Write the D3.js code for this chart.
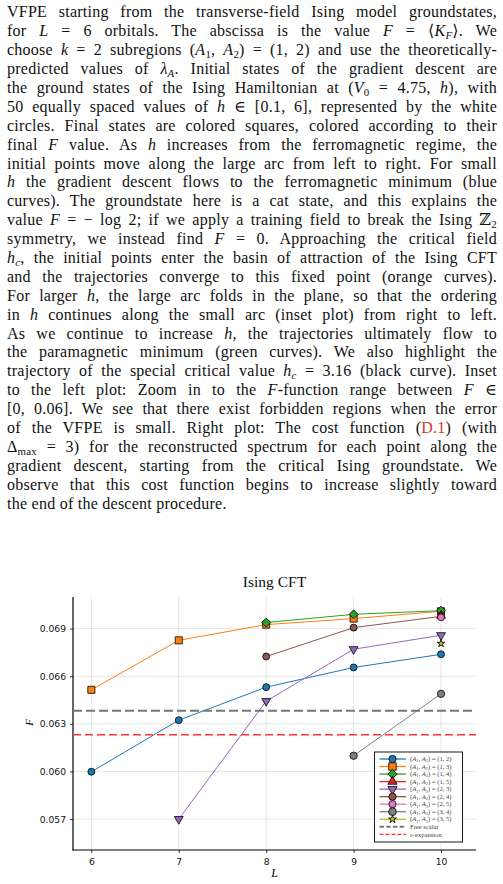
<!DOCTYPE html>
<html>
<head>
<meta charset="utf-8">
<script src="https://cdn.jsdelivr.net/npm/d3@7"></script>
<style>
  html, body { margin: 0; padding: 0; background: #fff; width: 503px; height: 884px; overflow: hidden; }
  #txt { position: absolute; left: 7px; top: 3.4px; width: 490px; font-family: "Liberation Serif", "DejaVu Serif", serif; font-size: 16px; letter-spacing: 0.25px; color: #111; }
  #txt .ln { height: 18.9px; line-height: 18.9px; text-align: justify; text-align-last: justify; white-space: normal; overflow: hidden; }
  #txt .ln.last { text-align-last: left; }
  #txt sub { font-size: 0.68em; line-height: 0; vertical-align: -0.25em; }
  #txt .ref { color: #d23a2f; }
  svg { position: absolute; left: 0; top: 0; }
</style>
</head>
<body>
<div id="txt"></div>
<svg id="chart" width="503" height="884"></svg>
<script>
// ---------------- data ----------------
const Ls = [6, 7, 8, 9, 10];
const xTicks = [6, 7, 8, 9, 10];
const yTicks = [0.057, 0.060, 0.063, 0.066, 0.069];
const seriesNames = ["(1,2)", "(1,3)", "(1,4)", "(1,5)", "(2,3)", "(2,4)", "(2,5)", "(3,4)", "(3,5)"];
const L12 = [6, 7, 8, 9, 10], F12 = [0.05998, 0.06323, 0.06531, 0.06655, 0.06738];
const L13 = [6, 7, 8, 9, 10], F13 = [0.06514, 0.06826, 0.06925, 0.06963, 0.07009];
const L14 = [8, 9, 10],        F14 = [0.06938, 0.06990, 0.07013];
const L15 = [10],              F15 = [0.06982];
const L23 = [7, 8, 9, 10],     F23 = [0.05700, 0.06443, 0.06770, 0.06858];
const L24 = [8, 9, 10],        F24 = [0.06724, 0.06906, 0.06977];
const L25 = [10],              F25 = [0.06971];
const L34 = [9, 10],           F34 = [0.06099, 0.06489];
const L35 = [10],              F35 = [0.06806];
const freeScalar = 0.06382;
const epsExpansion = 0.06231;

const textLines = [
  'VFPE starting from the transverse-field Ising model groundstates,',
  'for <i>L</i> = 6 orbitals. The abscissa is the value <i>F</i> = ⟨<i>K<sub>F</sub></i>⟩. We',
  'choose <i>k</i> = 2 subregions (<i>A</i><sub>1</sub>, <i>A</i><sub>2</sub>) = (1, 2) and use the theoretically-',
  'predicted values of <i>λ<sub>A</sub></i>. Initial states of the gradient descent are',
  'the ground states of the Ising Hamiltonian at (<i>V</i><sub>0</sub> = 4.75, <i>h</i>), with',
  '50 equally spaced values of <i>h</i> ∈ [0.1, 6], represented by the white',
  'circles. Final states are colored squares, colored according to their',
  'final <i>F</i> value. As <i>h</i> increases from the ferromagnetic regime, the',
  'initial points move along the large arc from left to right. For small',
  '<i>h</i> the gradient descent flows to the ferromagnetic minimum (blue',
  'curves). The groundstate here is a cat state, and this explains the',
  'value <i>F</i> = − log 2; if we apply a training field to break the Ising ℤ<sub>2</sub>',
  'symmetry, we instead find <i>F</i> = 0. Approaching the critical field',
  '<i>h<sub>c</sub></i>, the initial points enter the basin of attraction of the Ising CFT',
  'and the trajectories converge to this fixed point (orange curves).',
  'For larger <i>h</i>, the large arc folds in the plane, so that the ordering',
  'in <i>h</i> continues along the small arc (inset plot) from right to left.',
  'As we continue to increase <i>h</i>, the trajectories ultimately flow to',
  'the paramagnetic minimum (green curves). We also highlight the',
  'trajectory of the special critical value <i>h<sub>c</sub></i> = 3.16 (black curve). Inset',
  'to the left plot: Zoom in to the <i>F</i>-function range between <i>F</i> ∈',
  '[0, 0.06]. We see that there exist forbidden regions when the error',
  'of the VFPE is small. Right plot: The cost function (<span class="ref">D.1</span>) (with',
  'Δ<sub>max</sub> = 3) for the reconstructed spectrum for each point along the',
  'gradient descent, starting from the critical Ising groundstate. We',
  'observe that this cost function begins to increase slightly toward',
  'the end of the descent procedure.'
];

// ---------------- text ----------------
const txt = d3.select("#txt");
textLines.forEach((t, i) => {
  txt.append("div").attr("class", "ln" + (i === textLines.length - 1 ? " last" : "")).html(t);
});

// ---------------- chart ----------------
const svg = d3.select("#chart");
const pL = 73, pR = 476, pT = 597, pB = 850;
const x = d3.scaleLinear().domain([5.79, 10.4]).range([pL, pR]);
const y = d3.scaleLinear().domain([0.05505, 0.07099]).range([pB, pT]);

const colors = ["#1f77b4", "#ff7f0e", "#2ca02c", "#d62728", "#9467bd", "#8c564b", "#e377c2", "#7f7f7f", "#bcbd22"];
const diamond = { draw(ctx, size) { const r = Math.sqrt(size / 2); ctx.moveTo(0, -r); ctx.lineTo(r, 0); ctx.lineTo(0, r); ctx.lineTo(-r, 0); ctx.closePath(); } };
const shapes = [
  { t: d3.symbolCircle, s: 38, rot: 0 },
  { t: d3.symbolSquare, s: 50, rot: 0 },
  { t: diamond, s: 40, rot: 0 },
  { t: d3.symbolTriangle, s: 34, rot: 0 },
  { t: d3.symbolTriangle, s: 34, rot: 180 },
  { t: d3.symbolCircle, s: 38, rot: 0 },
  { t: d3.symbolCircle, s: 38, rot: 0 },
  { t: d3.symbolCircle, s: 42, rot: 0 },
  { t: d3.symbolStar, s: 18, rot: 0 }
];
const allL = [L12, L13, L14, L15, L23, L24, L25, L34, L35];
const allF = [F12, F13, F14, F15, F23, F24, F25, F34, F35];

// grid
const g = svg.append("g");
g.selectAll(".gx").data(xTicks).join("line")
  .attr("x1", d => x(d)).attr("x2", d => x(d)).attr("y1", pT).attr("y2", pB)
  .attr("stroke", "#000").attr("stroke-opacity", 0.1).attr("stroke-width", 1);
g.selectAll(".gy").data(yTicks).join("line")
  .attr("x1", pL).attr("x2", pR).attr("y1", d => y(d)).attr("y2", d => y(d))
  .attr("stroke", "#000").attr("stroke-opacity", 0.1).attr("stroke-width", 1);

// axes
const xAxis = d3.axisBottom(x).tickValues(xTicks).tickSize(3).tickPadding(5).tickFormat(d3.format("d"));
const yAxis = d3.axisLeft(y).tickValues(yTicks).tickSize(3).tickPadding(4).tickFormat(d3.format(".3f"));
const gx = svg.append("g").attr("transform", `translate(0,${pB})`).call(xAxis);
const gy = svg.append("g").attr("transform", `translate(${pL},0)`).call(yAxis);
[gx, gy].forEach(a => {
  a.select(".domain").remove();
  a.selectAll("text").attr("font-family", "DejaVu Sans, sans-serif").attr("font-size", 9.2).attr("fill", "#111");
  a.selectAll(".tick line").attr("stroke", "#000").attr("stroke-width", 0.8);
});
svg.append("line").attr("x1", pL).attr("x2", pL).attr("y1", pT).attr("y2", pB + 0.5).attr("stroke", "#000").attr("stroke-width", 1.2);
svg.append("line").attr("x1", pL - 0.5).attr("x2", pR).attr("y1", pB).attr("y2", pB).attr("stroke", "#000").attr("stroke-width", 1.2);

// series
const line = d3.line().x(d => x(d[0])).y(d => y(d[1]));
allL.forEach((Ls_, i) => {
  const pts = Ls_.map((l, j) => [l, allF[i][j]]);
  if (pts.length > 1) {
    svg.append("path").attr("d", line(pts)).attr("fill", "none").attr("stroke", colors[i]).attr("stroke-width", 1);
  }
  const sym = d3.symbol().type(shapes[i].t).size(shapes[i].s);
  svg.selectAll(null).data(pts).join("path")
    .attr("d", sym)
    .attr("transform", d => `translate(${x(d[0])},${y(d[1])}) rotate(${shapes[i].rot})`)
    .attr("fill", colors[i]).attr("stroke", "#000").attr("stroke-width", 0.8);
});

// reference lines
svg.append("line").attr("x1", pL).attr("x2", pR).attr("y1", y(freeScalar)).attr("y2", y(freeScalar))
  .attr("stroke", "#777").attr("stroke-width", 2).attr("stroke-dasharray", "9,4");
svg.append("line").attr("x1", pL).attr("x2", pR).attr("y1", y(epsExpansion)).attr("y2", y(epsExpansion))
  .attr("stroke", "#ff3333").attr("stroke-width", 1.4).attr("stroke-dasharray", "8,4");

// title and labels
svg.append("text").attr("x", (pL + pR) / 2).attr("y", 586.5).attr("text-anchor", "middle")
  .attr("font-family", "Liberation Serif, DejaVu Serif, serif").attr("font-size", 15.5).attr("fill", "#111").text("Ising CFT");
svg.append("text").attr("transform", "translate(32.5,722.5) rotate(-90)").attr("text-anchor", "middle")
  .attr("font-family", "Liberation Serif, DejaVu Serif, serif").attr("font-style", "italic").attr("font-size", 11).text("F");
svg.append("text").attr("x", (pL + pR) / 2).attr("y", 877).attr("text-anchor", "middle")
  .attr("font-family", "Liberation Serif, DejaVu Serif, serif").attr("font-style", "italic").attr("font-size", 12).text("L");

// legend
const lg = svg.append("g");
const lx = 374.5, ly = 752, lw = 88, lh = 90;
lg.append("rect").attr("x", lx).attr("y", ly).attr("width", lw).attr("height", lh)
  .attr("fill", "#fff").attr("stroke", "#000").attr("stroke-width", 0.9);
const rowY = i => 759 + i * 7.53;
const lfont = "Liberation Serif, DejaVu Serif, serif";
seriesNames.forEach((nm, i) => {
  const yy = rowY(i);
  lg.append("line").attr("x1", 379.5).attr("x2", 406).attr("y1", yy).attr("y2", yy).attr("stroke", colors[i]).attr("stroke-width", 1.3);
  const sym = d3.symbol().type(shapes[i].t).size(shapes[i].s * 1.1);
  lg.append("path").attr("d", sym).attr("transform", `translate(392.5,${yy}) rotate(${shapes[i].rot})`)
    .attr("fill", colors[i]).attr("stroke", "#000").attr("stroke-width", 0.8);
  const a = nm.replace(/[()]/g, "").split(",");
  const t = lg.append("text").attr("x", 410).attr("y", yy + 2.2).attr("font-family", lfont).attr("font-size", 6.6).attr("fill", "#444");
  t.append("tspan").text("(");
  t.append("tspan").attr("font-style", "italic").text("A");
  t.append("tspan").attr("font-size", 4.5).attr("dy", 1.2).text("1");
  t.append("tspan").attr("dy", -1.2).text(", ");
  t.append("tspan").attr("font-style", "italic").text("A");
  t.append("tspan").attr("font-size", 4.5).attr("dy", 1.2).text("2");
  t.append("tspan").attr("dy", -1.2).text(`) = (${a[0]}, ${a[1]})`);
});
const extra = [["Free scalar", "#777", 2, "4.5,2.2"], ["ε-expansion", "#ff3333", 1.3, "4,2"]];
extra.forEach((e, k) => {
  const yy = rowY(9 + k);
  lg.append("line").attr("x1", 379.5).attr("x2", 406).attr("y1", yy).attr("y2", yy)
    .attr("stroke", e[1]).attr("stroke-width", e[2]).attr("stroke-dasharray", e[3]);
  lg.append("text").attr("x", 410).attr("y", yy + 2.2).attr("font-family", lfont).attr("font-size", 6.6).attr("fill", "#444").text(e[0]);
});
</script>
</body>
</html>
